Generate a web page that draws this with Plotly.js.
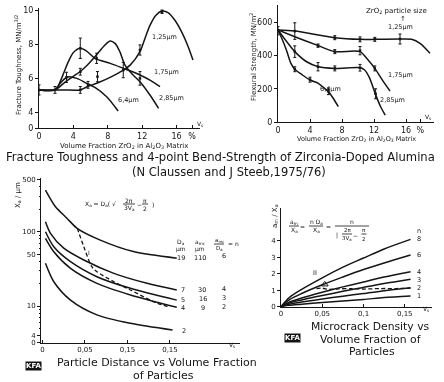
<!DOCTYPE html>
<html><head><meta charset="utf-8">
<script src="https://cdn.plot.ly/plotly-3.0.1.min.js"></script>
<style>html,body{margin:0;padding:0;background:#fff}#chart{width:444px;height:382px;filter:grayscale(1)}</style>
</head><body><div id="chart"></div>
<script>
// ---------- DATA ----------
// Top-left: fracture toughness (MN/m^3/2) vs volume fraction ZrO2 (%)
const tl125_x=[0,1.86,3,4.8,5.54,7,8.5,9.8,10.6,11.74,12.3,12.9,13.6,14.3,15,15.8,16.6,17.3,17.9];
const tl125_y=[5.3,5.3,5.3,5.3,5.47,5.75,6.1,6.47,6.76,7.55,8.3,9.1,9.7,9.94,9.85,9.4,8.7,7.9,7.06];
const tl175_x=[0,1.86,2.2,2.8,3.4,4.0,4.77,5.5,6.5,8.3,9.8,11.74,13,14.07];
const tl175_y=[5.3,5.3,5.5,6.2,6.95,7.5,7.75,7.6,7.16,6.86,6.57,6.18,5.85,5.5];
const tl285_x=[0,1.86,3.0,4.0,4.77,5.6,6.5,7.48,8.26,8.84,9.4,10,10.8,11.74,12.9,13.9];
const tl285_y=[5.3,5.3,5.75,6.1,6.37,6.75,7.25,7.84,8.18,8.04,7.55,6.76,6.25,5.78,5.0,4.22];
const tl64_x=[0,1.86,2.44,3.3,4.4,5.54,6.5,7.87,9.2];
const tl64_y=[5.3,5.3,5.68,6.06,5.98,5.69,5.45,4.9,4.06];
const tlErr_x=[0,1.86,3.2,4.8,4.8,4.8,5.7,6.7,6.8,9.8,11.74,11.74,14.3];
const tlErr_y=[5.3,5.3,6.04,7.75,6.37,5.3,5.6,7.16,6.08,6.47,7.65,5.98,9.9];
const tlErr_e=[0.3,0.2,0.3,0.6,0.2,0.2,0.2,0.3,0.3,0.45,0.3,0.4,0.1];
const tlTickVals=[3.06,4,6,8,10], tlTickText=['0','4','6','8','10'];
const pctTickVals=[0,4,8,12,16,17.8], pctTickText=['0','4','8','12','16','%'];

// Top-right: flexural strength (MN/m^2) vs volume fraction ZrO2 (%)
const tr125_x=[0,2.1,7.1,10.25,12.1,15.25,16.7,17.75,19.0];
const tr125_y=[554,548,508,498,498,500,498,474,414];
const tr175_x=[0,2.1,5.04,7.1,10.25,11.08,12.1,13.17,14.0];
const tr175_y=[554,514,460,424,424,384,323,243,187];
const tr285_x=[0,2.1,3.58,5.04,7.1,10.25,10.8,11.4,12.2,12.8,13.4];
const tr285_y=[554,424,363,333,323,327,315,270,165,95,42];
const tr64_x=[0,0.6,1.08,1.6,2.1,3.0,4.0,5.04,6.0,6.3,6.9,7.54];
const tr64_y=[554,490,430,355,318,285,253,233,195,183,143,92];
const trErr_x=[0,2.1,2.1,2.1,4.0,5.0,5.0,6.3,7.1,7.1,7.1,10.25,10.25,10.25,12.1,12.1,12.2,15.25];
const trErr_y=[550,548,424,318,255,460,333,185,508,424,323,498,430,327,498,323,170,500];
const trErr_e=[25,50,35,15,15,10,25,20,12,12,15,15,25,20,12,15,30,30];
const trTickVals=[0,200,400,600];

// Bottom-left: particle distance X_a (um) vs volume fraction V_s
const bl19_x=[0.0035,0.0153,0.029,0.0408,0.068,0.107,0.158];
const bl19_y=[364,217,151,111,77,54,44];
const bl7_x=[0.0035,0.0094,0.025,0.0486,0.084,0.123,0.158];
const bl7_y=[136,95,60,41.6,27.5,20.2,16.4];
const bl5_x=[0.0035,0.0133,0.033,0.064,0.1035,0.158];
const bl5_y=[100,62.8,39.5,24.8,17.3,12.0];
const bl4_x=[0.0035,0.0133,0.033,0.064,0.1035,0.158];
const bl4_y=[81.5,53.8,32.1,20.2,14.1,9.6];
const bl2_x=[0.0035,0.0133,0.033,0.064,0.1035,0.153];
const bl2_y=[37.6,21.2,12.0,7.6,5.85,4.75];
const blI_x=[0.041,0.0486,0.058,0.064,0.084,0.1035,0.131,0.147];
const blI_y=[111,62.8,33.8,29,21.2,16.4,11.4,9.8];
const blTickVals=[3.18,4,10,50,100,500], blTickText=['0','4','10','50','100','500'];
const blXTickVals=[0,0.05,0.1,0.15], blXTickText=['0','0,05','0,15','0,15'];

// Bottom-right: microcrack density a_m/X_a vs volume fraction V_s
const br_x=[0,0.01,0.025,0.05,0.075,0.1,0.125,0.157];
const br_n8=[0,0.55,1.05,1.75,2.4,2.95,3.5,4.08];
const br_n6=[0,0.42,0.8,1.33,1.8,2.25,2.65,3.13];
const br_n4=[0,0.28,0.53,0.88,1.2,1.5,1.8,2.12];
const br_n3=[0,0.22,0.41,0.68,0.93,1.17,1.4,1.66];
const br_n2=[0,0.15,0.28,0.47,0.64,0.8,0.97,1.15];
const br_n1=[0,0.08,0.15,0.26,0.35,0.44,0.55,0.65];
const brII_x=[0.043,0.05,0.058,0.07,0.085,0.1,0.12,0.14,0.157];
const brII_y=[1.1,1.12,1.05,1.08,1.1,1.07,1.1,1.1,1.12];
const brMark_x=[0.053], brMark_y=[1.35];
const brXTickVals=[0,0.05,0.1,0.15], brXTickText=['0','0,05','0,1','0,15'];
const brYTickVals=[0,1,2,3,4];

// ---------- RENDER ----------
const W=444,H=382, INK='#151515', F='DejaVu Sans, Liberation Sans, sans-serif';
const dx=(a,b)=>[a/W,b/W], dy=(t,b)=>[1-b/H,1-t/H];
function line(x,y,xa,ya,dash,w){return {type:'scatter',mode:'lines',x:x,y:y,xaxis:xa,yaxis:ya,
  line:{color:INK,width:w||1.5,shape:'spline',smoothing:0.8,dash:dash||'solid'},hoverinfo:'skip'};}
function errs(x,y,e,xa,ya){return {type:'scatter',mode:'markers',x:x,y:y,xaxis:xa,yaxis:ya,
  marker:{size:2.5,color:INK,symbol:'square'},error_y:{type:'data',array:e,visible:true,color:INK,thickness:1,width:1.5},hoverinfo:'skip'};}
const DASH='4px,2.5px';
const traces=[
  line(tl125_x,tl125_y,'x','y'),line(tl175_x,tl175_y,'x','y'),line(tl285_x,tl285_y,'x','y'),line(tl64_x,tl64_y,'x','y'),
  errs(tlErr_x,tlErr_y,tlErr_e,'x','y'),
  line(tr125_x,tr125_y,'x2','y2'),line(tr175_x,tr175_y,'x2','y2'),line(tr285_x,tr285_y,'x2','y2'),line(tr64_x,tr64_y,'x2','y2'),
  errs(trErr_x,trErr_y,trErr_e,'x2','y2'),
  line(bl19_x,bl19_y,'x3','y3'),line(bl7_x,bl7_y,'x3','y3'),line(bl5_x,bl5_y,'x3','y3'),line(bl4_x,bl4_y,'x3','y3'),line(bl2_x,bl2_y,'x3','y3'),
  line(blI_x,blI_y,'x3','y3',DASH,1.3),
  line(br_x,br_n8,'x4','y4'),line(br_x,br_n6,'x4','y4'),line(br_x,br_n4,'x4','y4'),line(br_x,br_n3,'x4','y4'),line(br_x,br_n2,'x4','y4'),line(br_x,br_n1,'x4','y4'),
  line(brII_x,brII_y,'x4','y4',DASH,1.3),
  {type:'scatter',mode:'markers',x:brMark_x,y:brMark_y,xaxis:'x4',yaxis:'y4',marker:{symbol:'triangle-up-open',size:6,color:INK,line:{width:1,color:INK}},hoverinfo:'skip'}
];
const ax={showline:true,linecolor:INK,linewidth:1,ticks:'outside',ticklen:3,tickcolor:INK,tickwidth:1,
  showgrid:false,zeroline:false,fixedrange:true,tickfont:{family:F,size:8,color:INK}};
const A=(o)=>Object.assign({},ax,o);
function T(x,y,text,size,o){return Object.assign({xref:'paper',yref:'paper',x:x/W,y:1-y/H,text:text,showarrow:false,
  font:{family:F,size:size||7,color:INK},xanchor:'center',yanchor:'middle'},o||{});}
const shapes=[];
function frac(xc,yc,num,den,w,size){shapes.push({type:'line',xref:'paper',yref:'paper',x0:(xc-w/2)/W,x1:(xc+w/2)/W,y0:1-yc/H,y1:1-yc/H,line:{color:INK,width:0.8}});
  return [T(xc,yc-4,num,size||6),T(xc,yc+4.5,den,size||6)];}
const sub=s=>'<sub>'+s+'</sub>';
const KFA={bgcolor:INK,font:{family:F,size:7,color:'#fff'},borderpad:0};
let ann=[
  // top-left
  T(18,65,'Fracture Toughness, MN/m<sup>3/2</sup>',7,{textangle:-90}),
  T(124,146,'Volume Fraction ZrO'+sub('2')+' in Al'+sub('2')+'O'+sub('3')+' Matrix',7),
  T(200,124,'V'+sub('s'),6),
  T(164,37,'1,25μm',6.5),T(166,72,'1,75μm',6.5),T(171,98,'2,85μm',6.5),T(128,100,'6,4μm',6.5),
  // top-right
  T(253,57,'Flexural Strength, MN/m<sup>2</sup>',7,{textangle:-90}),
  T(356,139,'Volume Fraction ZrO'+sub('2')+' in Al'+sub('2')+'O'+sub('3')+' Matrix',6.5),
  T(396,11,'ZrO'+sub('2')+' particle size',7),T(403,19,'↑',7),
  T(400,27,'1,25μm',6.5),T(400,75,'1,75μm',6.5),T(392,100,'2,85μm',6.5),T(330,89,'6,4μm',6.5),
  T(428,117,'V'+sub('s'),6),
  // captions
  T(4,157,'Fracture Toughness and 4-point Bend-Strength of Zirconia-Doped Alumina',11.6,{xanchor:'left'}),
  T(229,172,'(N Claussen and J Steeb,1975/76)',11.5),
  // bottom-left
  T(18,195,'X'+sub('a')+' / μm',7,{textangle:-90}),
  T(83,204,'X'+sub('a')+' = D'+sub('a')+'( √',6,{xanchor:'left'}),
  T(139,204,'−',6),T(153,204,')',6),
  T(89,252,'I',6),
  T(181,242,'D'+sub('a'),6),T(200,242,'a'+sub('mc'),6),T(233,243,'= n',6),
  T(181,249,'μm',6),T(200,249,'μm',6),
  T(181,258,'19',6.5),T(200,258,'110',6.5),T(224,256,'6',6.5),
  T(183,290,'7',6.5),T(202,290,'30',6.5),T(224,289,'4',6.5),
  T(183,300,'5',6.5),T(203,299,'16',6.5),T(224,298,'3',6.5),
  T(183,308,'4',6.5),T(203,308,'9',6.5),T(224,307,'2',6.5),
  T(184,331,'2',6.5),
  T(232,345,'V'+sub('s'),6),
  T(55,362,'Particle Distance vs Volume Fraction',11,{xanchor:'left'}),
  T(163,375,'of Particles',11),
  T(33,366,'<b>KFA</b>',7,KFA),
  // bottom-right
  T(275,216,'a'+sub('m')+' / X'+sub('a'),7,{textangle:-90}),
  T(302,226,'=',6),T(328.7,226,'=',6),
  T(337,235,'|',6),T(355,235,'−',6),
  T(419,231,'n',6.5),T(419,239,'8',6.5),T(419,255,'6',6.5),T(419,272,'4',6.5),T(419,279.5,'3',6.5),T(419,288,'2',6.5),T(419,296,'1',6.5),
  T(315,273,'II',6.5),
  T(426,309,'V'+sub('s'),6),
  T(370,326,'Microcrack Density vs',10.8),T(370,339,'Volume Fraction of',10.8),T(372,351,'Particles',10.8),
  T(292,338,'<b>KFA</b>',7,KFA)
];
ann=ann.concat(frac(129,204,'2π','3V'+sub('a'),12,6),frac(145,204,'π','2',6,6),
  frac(219,244,'a'+sub('mc'),'D'+sub('a'),10,5.5),
  frac(294,226,'a'+sub('m'),'X'+sub('a'),10,6),frac(316,226,'n D'+sub('a'),'X'+sub('a'),14,6));
ann.push(T(352,221.5,'n',6));
shapes.push({type:'line',xref:'paper',yref:'paper',x0:335/W,x1:369/W,y0:1-226/H,y1:1-226/H,line:{color:INK,width:0.8}});
ann=ann.concat(frac(347,234,'2π','3V'+sub('a'),10,5.5),frac(364,234,'π','2',5,5.5));

const layout={width:W,height:H,margin:{l:0,r:0,t:0,b:0},paper_bgcolor:'#fff',plot_bgcolor:'rgba(0,0,0,0)',showlegend:false,
  xaxis:A({domain:dx(39,200),range:[0,18.72],anchor:'y',ticks:'inside',tickvals:pctTickVals,ticktext:pctTickText}),
  yaxis:A({domain:dy(8,128),range:[3.06,10.12],anchor:'x',tickvals:tlTickVals,ticktext:tlTickText}),
  xaxis2:A({domain:dx(278,434),range:[0,19.5],anchor:'y2',ticks:'inside',tickvals:pctTickVals,ticktext:pctTickText}),
  yaxis2:A({domain:dy(5,122),range:[0,705],anchor:'x2',tickvals:trTickVals}),
  xaxis3:A({domain:dx(41,240),range:[-0.00176,0.2324],anchor:'y3',ticks:'inside',tickvals:blXTickVals,ticktext:blXTickText,tickfont:{family:F,size:7,color:INK}}),
  yaxis3:A({type:'log',domain:dy(178,343),range:[0.502,2.723],anchor:'x3',tickvals:blTickVals,ticktext:blTickText,tickfont:{family:F,size:7,color:INK},
    minor:{ticks:'outside',ticklen:1.5,tickcolor:INK,tickvals:[5,6,7,8,9,20,30,40,60,70,80,90,200,300,400]}}),
  xaxis4:A({domain:dx(281,432),range:[0,0.183],anchor:'y4',ticks:'inside',tickvals:brXTickVals,ticktext:brXTickText,tickfont:{family:F,size:7,color:INK}}),
  yaxis4:A({domain:dy(208,306.7),range:[0,5.98],anchor:'x4',tickvals:brYTickVals,tickfont:{family:F,size:7,color:INK}}),
  annotations:ann,shapes:shapes
};
Plotly.newPlot('chart',traces,layout,{staticPlot:true,displayModeBar:false});
</script></body></html>
